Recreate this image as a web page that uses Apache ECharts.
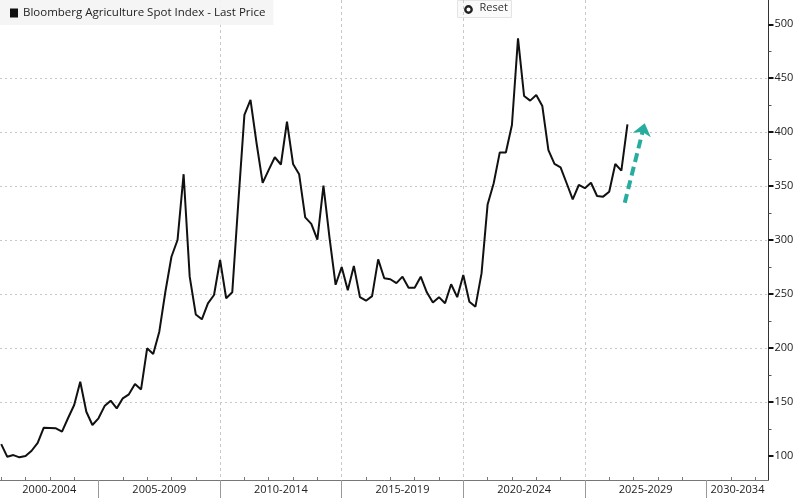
<!DOCTYPE html>
<html>
<head>
<meta charset="utf-8">
<script src="https://cdn.jsdelivr.net/npm/echarts@6/dist/echarts.min.js"></script>
<style>
  html, body { margin: 0; padding: 0; background: #ffffff; }
  #chart { width: 800px; height: 498px; }
</style>
</head>
<body>
<div id="chart"></div>
<script>
// ---- data ----
const seriesName = 'Bloomberg Agriculture Spot Index - Last Price';
// quarterly closes, first = end of 2000
const firstQuarter = 2001.0;
const prices = [
  110.8, 99, 100.6, 98.5, 99.7, 104.6, 112, 126, 125.7, 125.4,
  122.3, 135, 147, 168.6, 140.8, 128.5, 134.7, 146, 151, 143.9,
  153.2, 156.9, 166.5, 161.5, 199.6, 194.3, 215, 252, 284.5, 300,
  361, 266, 231, 226.5, 241.3, 249, 281.5, 246, 251.5, 335,
  416, 430, 389.7, 353, 365, 376.7, 370, 409.7, 370.5, 361,
  321, 315, 300.3, 350.5, 302, 258.5, 275, 253.3, 276, 247,
  243.7, 248, 282, 264.5, 263.6, 260, 266, 255.8, 255.8, 266,
  251.5, 242, 247, 241.3, 259, 247, 267.5, 242.8, 238.2, 269,
  333, 352.6, 381.2, 381.2, 406.6, 487, 433.5, 429.2, 434.4, 424.2,
  383.4, 370.5, 367.4, 352.6, 337.7, 351, 348, 353.1, 340.8, 340.2,
  344.8, 370.5, 364.3, 407.3
];
const periods = ['2000-2004', '2005-2009', '2010-2014', '2015-2019', '2020-2024', '2025-2029', '2030-2034'];
const periodBounds = [2005, 2010, 2015, 2020, 2025, 2030];
const yearTicks = [2001,2002,2003,2004,2006,2007,2008,2009,2011,2012,2013,2014,2016,2017,2018,2019,2021,2022,2023,2024,2026,2027,2028,2029,2031,2032];
const yTicks = [100, 150, 200, 250, 300, 350, 400, 450, 500];
const yMinorTicks = [125, 175, 225, 275, 325, 375, 425, 475];
const xRange = [2000.95, 2032.55];
const yRange = [77.5, 522.5];
// annotation arrow (data coords)
const arrowFrom = [2026.64, 334.6];
const arrowTo = [2027.46, 408.2];

// ---- build ----
const points = prices.map((v, i) => [firstQuarter + i * 0.25, v]);
// label positions: centre of each visible period span
const labelPos = periods.map((p, i) => {
  const s = 2000 + i * 5;
  const a = Math.max(s, xRange[0]);
  const b = Math.min(s + 5, xRange[1]);
  return (a + b) / 2;
});
function periodOf(v) {
  const idx = Math.floor((v - 2000) / 5);
  return periods[idx] || '';
}

const FONT = '"Open Sans", "Liberation Sans", sans-serif';
const chart = echarts.init(document.getElementById('chart'), null, { renderer: 'canvas' });
chart.setOption({
  animation: false,
  backgroundColor: '#ffffff',
  textStyle: { fontFamily: FONT },
  grid: { left: 0, right: 31.5, top: 0, bottom: 18, containLabel: false },
  legend: {
    show: true,
    left: 0, top: 0,
    padding: [7, 8, 6, 10],
    backgroundColor: 'rgba(244,244,244,0.92)',
    itemWidth: 8, itemHeight: 9, itemGap: 5,
    icon: 'rect',
    selectedMode: false,
    textStyle: { color: '#222', fontSize: 11.5, fontFamily: FONT, padding: [0, 0, 0, 0] },
    data: [{ name: seriesName, itemStyle: { color: '#111' } }]
  },
  xAxis: [
    {
      type: 'value', min: xRange[0], max: xRange[1], position: 'bottom',
      axisLine: { show: true, lineStyle: { color: '#777', width: 1 } },
      axisTick: { show: true, customValues: periodBounds, length: 18, inside: false, lineStyle: { color: '#999', width: 1 } },
      axisLabel: {
        show: true, customValues: labelPos, formatter: v => periodOf(v),
        color: '#222', fontSize: 11, fontFamily: FONT, margin: 4
      },
      splitLine: { show: true, showMinLine: false, showMaxLine: false, lineStyle: { color: '#c8c8c8', type: [3, 3], width: 1 } },
      minorTick: { show: false }
    },
    {
      type: 'value', min: xRange[0], max: xRange[1], position: 'bottom',
      axisLine: { show: false },
      axisTick: { show: true, customValues: yearTicks, length: 3, inside: true, lineStyle: { color: '#777', width: 1 } },
      axisLabel: { show: false },
      splitLine: { show: false }
    }
  ],
  yAxis: [
    {
      type: 'value', min: yRange[0], max: yRange[1], position: 'right',
      axisLine: { show: true, lineStyle: { color: '#333', width: 1 } },
      axisTick: { show: true, customValues: yTicks, length: 5, inside: false, lineStyle: { color: '#111', width: 2 } },
      axisLabel: { show: true, customValues: yTicks, color: '#222', fontSize: 11, fontFamily: FONT, margin: 6 },
      splitLine: { show: true, showMinLine: false, showMaxLine: false, lineStyle: { color: '#c8c8c8', type: [2, 3], width: 1 } }
    },
    {
      type: 'value', min: yRange[0], max: yRange[1], position: 'right',
      axisLine: { show: false },
      axisTick: { show: true, customValues: yMinorTicks, length: 3, inside: false, lineStyle: { color: '#555', width: 1 } },
      axisLabel: { show: false },
      splitLine: { show: false }
    }
  ],
  series: [
    {
      name: seriesName,
      type: 'line',
      xAxisIndex: 0, yAxisIndex: 0,
      data: points,
      showSymbol: false,
      symbol: 'none',
      smooth: false,
      lineStyle: { color: '#111', width: 2 },
      itemStyle: { color: '#111' },
      emphasis: { disabled: true },
      markLine: {
        silent: true,
        symbol: ['none', 'arrow'],
        symbolSize: [14, 12],
        label: { show: false },
        emphasis: { disabled: true },
        lineStyle: { color: '#26ad9f', width: 4, type: [9, 5] },
        data: [[{ coord: arrowFrom }, { coord: arrowTo }]]
      }
    }
  ],
  graphic: [
    {
      type: 'group', left: 457, top: 0,
      children: [
        { type: 'rect', shape: { x: 0, y: 0, width: 54, height: 17 }, style: { fill: 'rgba(250,250,250,0.95)', stroke: '#e4e4e4', lineWidth: 1 } },
        { type: 'circle', shape: { cx: 11, cy: 9, r: 3.2 }, style: { fill: '#fff', stroke: '#222', lineWidth: 2.4 } },
        { type: 'text', x: 22, y: 2, style: { text: 'Reset', fill: '#333', fontSize: 11, fontFamily: FONT } }
      ]
    }
  ]
});
</script>
</body>
</html>
